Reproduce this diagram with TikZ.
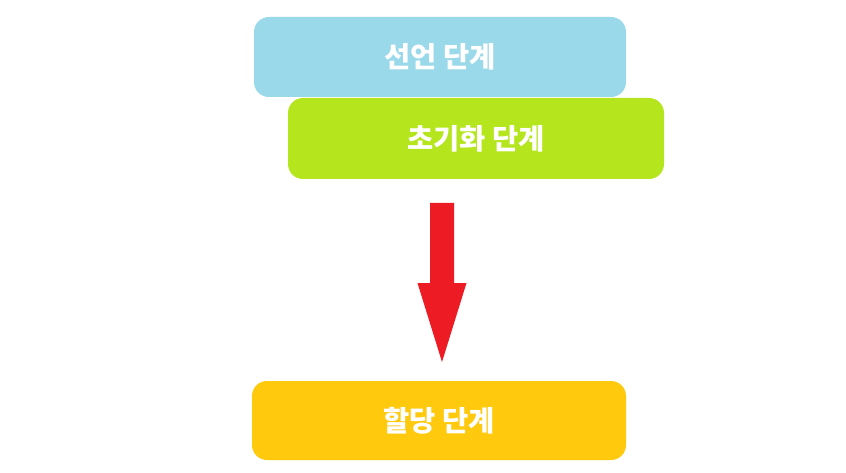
\documentclass[tikz,border=0pt]{standalone}
\usepackage{fontspec}
\usepackage{xcolor, tikz}
\newfontfamily\kr{Noto Sans CJK KR}
\usetikzlibrary{calc}
\definecolor{declblue}{HTML}{99D9EA}
\definecolor{initgreen}{HTML}{B5E61D}
\definecolor{assignyellow}{HTML}{FFC90E}
\definecolor{arrowred}{HTML}{ED1C24}
\tikzstyle{stage} = [rectangle, rounded corners=15pt, minimum height=80pt, text centered, text=white, font=\kr\bfseries\fontsize{28.5}{32}\selectfont, draw=none]
\tikzstyle{bigarrow} = [fill=arrowred, draw=none]

\begin{document}
\begin{tikzpicture}[x=1pt, y=-1pt]
      \fill[white] (0,0) rectangle (846,473);
      \useasboundingbox (0,0) rectangle (846,473);
      \node (decl)[stage, fill=declblue, minimum width=372pt] at (440,57) {선언 단계};
      \node (init)[stage, fill=initgreen, minimum width=376pt, minimum height=81pt] at (476,138.5) {초기화 단계};
      \node (assign)[stage, fill=assignyellow, minimum width=374pt, minimum height=79pt] at (439,420.5) {할당 단계};
      % big red arrow between the stages
      \coordinate (tail) at (442,203);
      \coordinate (tip) at (442,362);
      \fill[bigarrow] ($(tail)+(-12,0)$) -- ($(tail)+(12,0)$) -- ($(tail)+(12,80)$) -- ($(tail)+(24.5,80)$)
        -- (tip) -- ($(tail)+(-24.5,80)$) -- ($(tail)+(-12,80)$) -- cycle;
    \end{tikzpicture}
\end{document}
